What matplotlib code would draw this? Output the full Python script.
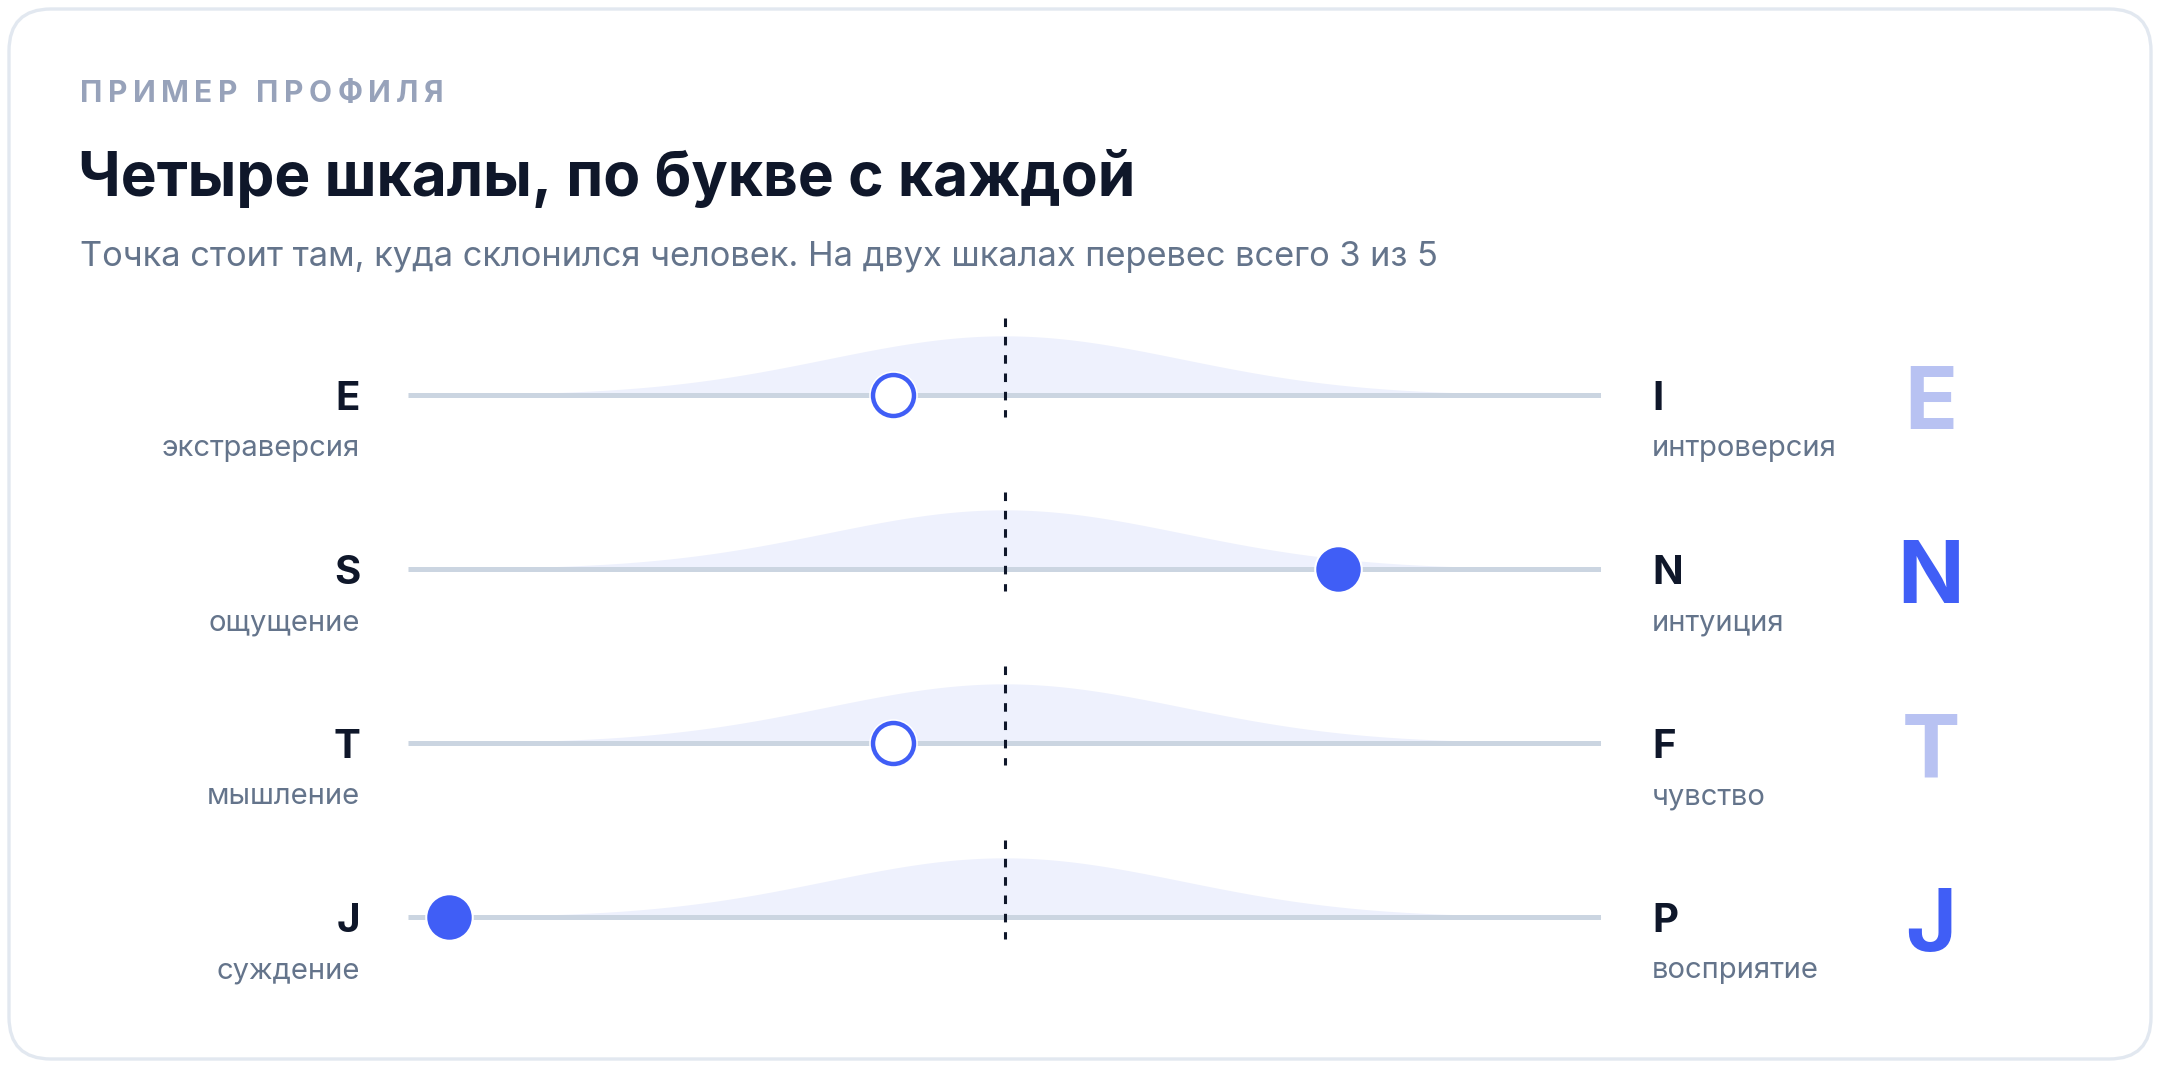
import numpy as np
import matplotlib.pyplot as plt
from matplotlib.patches import FancyBboxPatch

# data
left_letters = ["E", "S", "T", "J"]
left_names = ["экстраверсия", "ощущение", "мышление", "суждение"]
right_letters = ["I", "N", "F", "P"]
right_names = ["интроверсия", "интуиция", "чувство", "восприятие"]
# -1 = fully left pole, +1 = fully right pole
scores = [-0.2, 0.6, -0.2, -1.0]
clear_lean = [False, True, False, True]

kicker = "ПРИМЕР ПРОФИЛЯ"
title = "Четыре шкалы, по букве с каждой"
subtitle = "Точка стоит там, куда склонился человек. На двух шкалах перевес всего 3 из 5"

DARK = "#0f172a"
MUTED = "#64748b"
KICK = "#97a2ba"
TRACK = "#cbd5e1"
BELL = "#eef1fd"
BLUE = "#405ef6"
PALE = "#b8c2f2"

W, H = 2160, 1068
plt.rcParams["font.family"] = ["Inter", "DejaVu Sans"]

fig = plt.figure(figsize=(W / 100, H / 100), dpi=100)
fig.patch.set_facecolor("white")

# card
card = FancyBboxPatch((0.09, 0.09), W / 100 - 0.18, H / 100 - 0.18,
                      boxstyle="round,pad=0,rounding_size=0.42",
                      transform=fig.dpi_scale_trans, facecolor="white",
                      edgecolor="#e2e8f0", linewidth=2.4, zorder=-5)
fig.patches.append(card)


def fx(px):
    return px / W


def fy(py):
    return 1 - py / H


def spaced_text(x, y, s, spacing, **kw):
    # draw text char by char with extra tracking (pixels)
    renderer = fig.canvas.get_renderer()
    cur = x
    for ch in s:
        t = fig.text(fx(cur), fy(y), ch, **kw)
        w = t.get_window_extent(renderer).width
        if ch == " ":
            w = kw.get("fontsize", 10) * 0.35
        cur += w + spacing


spaced_text(80, 102, kicker, 5.5, fontsize=21.5, fontweight="bold", color=KICK,
            va="baseline")
fig.text(fx(78), fy(196), title, fontsize=43.5, fontweight="bold", color=DARK,
         va="baseline")
fig.text(fx(80), fy(266), subtitle, fontsize=24.8, color=MUTED, va="baseline")

# scales
x0, x1 = 408, 1601
top, bottom = 300, 1000
row_px = 174
ax = fig.add_axes([fx(x0), fy(bottom), fx(x1) - fx(x0), (bottom - top) / H])
span = 1.074
ax.set_xlim(-span, span)
ax.set_ylim(3 + (bottom - 917) / row_px, -(395 - top) / row_px)
ax.axis("off")

xs = np.linspace(-span, span, 400)
bell = 0.34 * np.exp(-0.5 * (xs / 0.32) ** 2)
px_unit = (x1 - x0) / (2 * span)

for i in range(len(scores)):
    ax.fill_between(xs, i, i - bell, color=BELL, lw=0, zorder=1)
    ax.plot([-span, span], [i, i], color=TRACK, lw=3.6, solid_capstyle="butt",
            zorder=2)
    ax.plot([0, 0], [i - 0.443, i + 0.127], color=DARK, lw=2.2,
            linestyle=(0, (2.8, 3.2)), zorder=3)
    # white halo under the point
    ax.plot(scores[i], i, "o", ms=35, color="white", mec="none", zorder=4)
    if clear_lean[i]:
        ax.plot(scores[i], i, "o", ms=32, color=BLUE, mec="none", zorder=5)
    else:
        ax.plot(scores[i], i, "o", ms=29.5, mfc="white", mec=BLUE, mew=3.2,
                zorder=5)

    lx = -span - (x0 - 360) / px_unit
    rx = span + (1652 - x1) / px_unit
    ax.text(lx, i + 0.089, left_letters[i], ha="right", va="baseline",
            fontsize=29, fontweight="bold", color=DARK, clip_on=False)
    ax.text(lx, i + 0.351, left_names[i], ha="right", va="baseline",
            fontsize=21, color=MUTED, clip_on=False)
    ax.text(rx, i + 0.089, right_letters[i], ha="left", va="baseline",
            fontsize=29, fontweight="bold", color=DARK, clip_on=False)
    ax.text(rx, i + 0.351, right_names[i], ha="left", va="baseline",
            fontsize=21, color=MUTED, clip_on=False)

    result = left_letters[i] if scores[i] < 0 else right_letters[i]
    bx = (1931 - 1004.5) / px_unit
    ax.text(bx, i + 0.195, result, ha="center", va="baseline", fontsize=63,
            fontweight="bold", color=BLUE if clear_lean[i] else PALE,
            clip_on=False)

fig.savefig("out.png", dpi=100, facecolor="white")
